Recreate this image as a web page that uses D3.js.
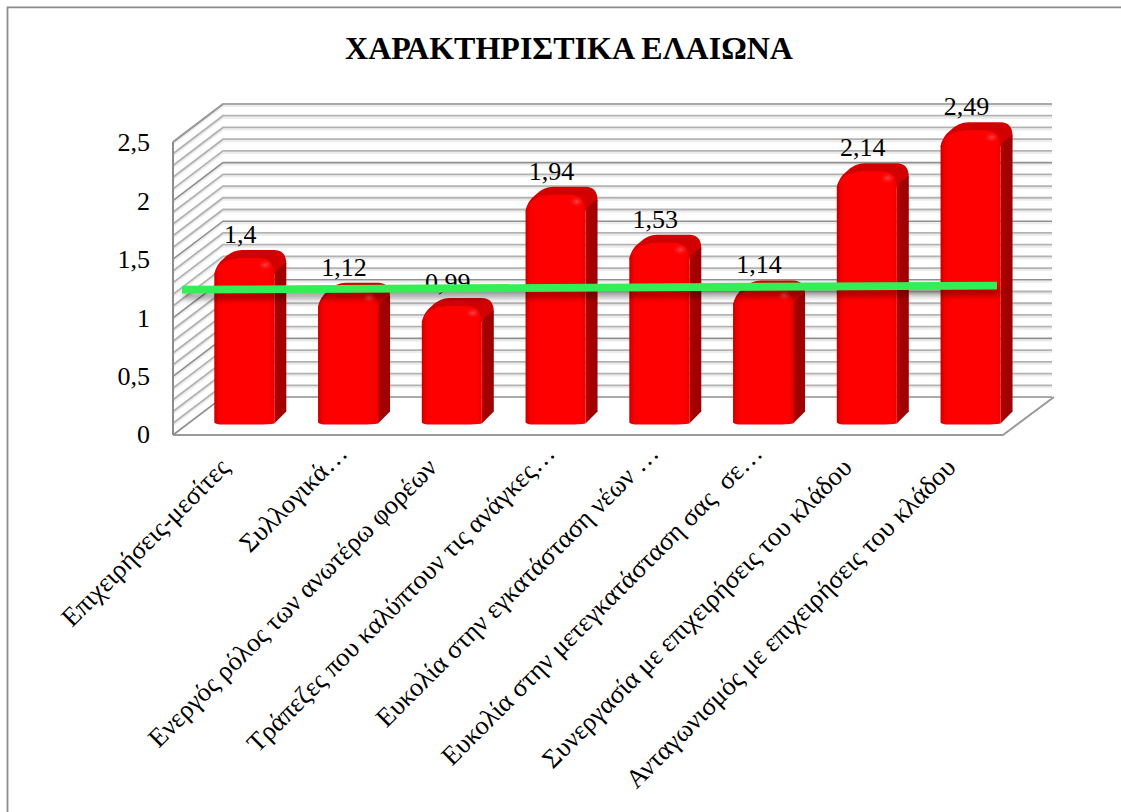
<!DOCTYPE html>
<html><head><meta charset="utf-8">
<script src="https://cdn.jsdelivr.net/npm/d3@7"></script>
<style>
html,body{margin:0;padding:0;background:#fff}
svg{display:block}
text{font-family:"Liberation Serif","Times New Roman",serif;fill:#000;white-space:pre}
</style></head><body>
<svg id="c" width="1121" height="812"></svg>
<script>
const chartTitle = "ΧΑΡΑΚΤΗΡΙΣΤΙΚΑ ΕΛΑΙΩΝΑ";
const categories = ["Επιχειρήσεις-μεσίτες","Συλλογικά…","Ενεργός ρόλος των ανωτέρω φορέων","Τράπεζες που καλύπτουν τις ανάγκες…","Ευκολία στην εγκατάσταση νέων …","Ευκολία στην μετεγκατάσταση σας  σε…","Συνεργασία με επιχειρήσεις του κλάδου","Ανταγωνισμός με επιχειρήσεις του κλάδου"];
const values = [1.4,1.12,0.99,1.94,1.53,1.14,2.14,2.49];
const trendValues = [1.24,1.275];
const yTicks = [0,0.5,1,1.5,2,2.5];
const minorStep = 0.1;

const fmt = v => String(v).replace(".",",");
const svg = d3.select("#c");
const defs = svg.append("defs");

svg.append("path").attr("d","M7.5,812V7.3H1121").attr("fill","none").attr("stroke","#8c8c8c").attr("stroke-width",1.8);

svg.append("text").attr("x",569).attr("y",58.5).attr("text-anchor","middle")
  .attr("font-size",32).attr("font-weight","bold").text(chartTitle);

const depthX = 50, depthY = 38;
const x = d3.scaleBand().domain(categories).range([173,1003]);
const yFront = d3.scaleLinear().domain([0,2.5]).range([435,142]);
const yBack = v => yFront(v) - depthY;
const x0 = x.range()[0], x1 = x.range()[1];

const gridVals = d3.range(0, Math.round(2.5/minorStep)+1).map(i => +(i*minorStep).toFixed(1));
const isMajor = v => yTicks.includes(v);
const g = svg.append("g").attr("fill","none");
gridVals.slice().sort((a,b)=>isMajor(a)-isMajor(b)).forEach(v=>{
  const c = isMajor(v) ? "#8f8f8f" : "#b2b2b2", w = isMajor(v)?1.6:1.8;
  if(v>0){
    g.append("path").attr("d",`M${x0},${yFront(v)+2}L${x0+depthX},${yBack(v)+2}H${x1+depthX-1}`).attr("stroke","#ececec").attr("stroke-width",2);
  }
  g.append("path").attr("d",`M${x0},${yFront(v)}L${x0+depthX},${yBack(v)}H${x1+depthX-1}`).attr("stroke",c).attr("stroke-width",w);
});
g.append("path").attr("d",`M${x0},${yFront(0)}H${x1}L${x1+depthX+1},${yBack(0)}`).attr("stroke","#9a9a9a").attr("stroke-width",2);
g.append("path").attr("d",`M${x0},${yFront(2.5)}V${yFront(0)}`).attr("stroke","#8c8c8c").attr("stroke-width",2);
g.append("path").attr("d",`M${x0},${yFront(2.5)}L${x0+depthX},${yBack(2.5)}`).attr("stroke","#9a9a9a").attr("stroke-width",1.6);

svg.append("g").selectAll("text").data(yTicks).join("text")
  .attr("x",150).attr("y",d=>yFront(d)+(d?9:8)).attr("text-anchor","end").attr("font-size",26).text(fmt);

const grad = defs.append("linearGradient").attr("id","front");
[[0,"#c40000"],[0.07,"#f40000"],[0.16,"#ff0000"],[0.9,"#ff0000"],[1,"#f00000"]].forEach(s=>grad.append("stop").attr("offset",s[0]).attr("stop-color",s[1]));
const gradS = defs.append("linearGradient").attr("id","side");
[[0,"#c00000"],[0.3,"#a40000"],[1,"#a00000"]].forEach(s=>gradS.append("stop").attr("offset",s[0]).attr("stop-color",s[1]));
const gradB = defs.append("radialGradient").attr("id","glint");
[[0,"#ff4a4a"],[1,"#ff0000"]].forEach((s,i)=>gradB.append("stop").attr("offset",s[0]).attr("stop-color",s[1]).attr("stop-opacity",i?0:1));

const barW = 60, dX = 12, dY = 12;
const bx = c => x(c) + 41.3;
const crest = v => yFront(v) - 21;
const yB = yFront(0) - 11.5;

const bars = svg.append("g").selectAll("g").data(categories).join("g");
bars.each(function(c,i){
  const b = d3.select(this), L = bx(c), R = L+barW, top = crest(values[i]), sR = R+dX;
  b.append("path").attr("d",`M${L},${top+24}Q${L+2},${top+14} ${L+10},${top+8}Q${L+18},${top} ${L+28},${top}H${R}Q${sR},${top} ${sR},${top+14}L${R},${top+24}Z`).attr("fill","#d20000");
  b.append("path").attr("d",`M${R},${top+24}Q${R+5},${top+16} ${sR},${top+13}V${yB-dY}L${R},${yB}Z`).attr("fill","url(#side)");
  b.append("path").attr("d",`M${L},${yB-1}V${top+24}Q${L+2},${top+16} ${L+10},${top+12}Q${L+18},${top+8} ${L+28},${top+8}H${R-14}Q${R-1},${top+9} ${R},${top+24}V${yB}Q${R-6},${yB+1} ${R-16},${yB+1}H${L+8}Q${L+2},${yB+1} ${L},${yB-1}Z`).attr("fill","url(#front)");
  b.append("ellipse").attr("cx",R-9).attr("cy",top+15).attr("rx",8).attr("ry",6).attr("fill","url(#glint)");
});

svg.append("g").selectAll("text").data(categories).join("text")
  .attr("x",c=>bx(c)+26).attr("y",(c,i)=>crest(values[i])-7)
  .attr("text-anchor","middle").attr("font-size",26).text((c,i)=>fmt(values[i]));

const trendX = d3.scaleLinear().domain([0,1]).range([182,997]);
const trend = d3.line().x((d,i)=>trendX(i)).y(d=>yFront(d));
defs.append("filter").attr("id","sh").attr("x","-5%").attr("y","-300%").attr("width","110%").attr("height","700%")
  .append("feGaussianBlur").attr("stdDeviation",3);
svg.append("path").attr("d",trend(trendValues)).attr("transform","translate(2,6)").attr("fill","none").attr("stroke","#000").attr("stroke-opacity",0.4).attr("stroke-width",7).attr("filter","url(#sh)");
svg.append("path").attr("d",trend(trendValues)).attr("fill","none").attr("stroke","#33ee55").attr("stroke-width",7.8);

svg.append("g").selectAll("text").data(categories).join("text")
  .attr("transform",c=>`translate(${x(c)+58},469) rotate(-45)`)
  .attr("dx",c=>c.endsWith("…")?20:0)
  .attr("text-anchor","end").attr("font-size",26.5).text(c=>c);
</script></body></html>
